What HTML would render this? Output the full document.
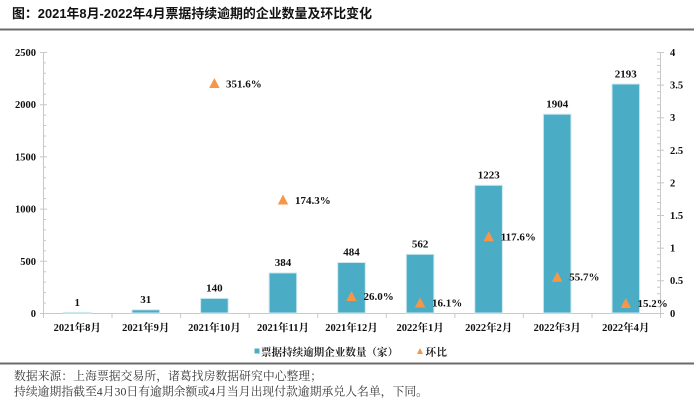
<!DOCTYPE html>
<html><head><meta charset="utf-8"><style>
html,body{margin:0;padding:0;background:#fff;}
svg{display:block;}
.t{font-family:"Liberation Sans","Noto Sans CJK SC",sans-serif;font-weight:bold;font-size:13px;fill:#111;}
.n{font-family:"Liberation Serif","Noto Serif CJK SC",serif;font-weight:bold;font-size:10.5px;fill:#111;}
.v{font-family:"Liberation Serif","Noto Serif CJK SC",serif;font-weight:bold;font-size:11px;fill:#111;}
.lg{font-family:"Liberation Serif","Noto Serif CJK SC",serif;font-weight:bold;font-size:10.5px;fill:#222;}
.f{font-family:"Liberation Serif","Noto Serif CJK SC",serif;font-size:11.8px;fill:#3a3a3a;}
</style></head><body>
<svg width="694" height="406" viewBox="0 0 694 406" xmlns="http://www.w3.org/2000/svg">
<rect width="694" height="406" fill="#fff"/>
<text class="t" x="12" y="18" textLength="360" lengthAdjust="spacingAndGlyphs">图：2021年8月-2022年4月票据持续逾期的企业数量及环比变化</text>
<rect x="0" y="28.5" width="694" height="2" fill="#6b6b6b"/>

<g stroke="#c8c8c8" stroke-width="1" fill="none">
<line x1="43.5" y1="52" x2="43.5" y2="313"/>
<line x1="660.5" y1="52" x2="660.5" y2="313"/>
<line x1="43" y1="313.5" x2="661" y2="313.5"/>
<path d="M40 52.5H47M40 104.7H47M40 156.9H47M40 209.1H47M40 261.3H47M40 313.5H47"/>
<path d="M43 62.9H46M43 73.3H46M43 83.8H46M43 94.2H46M43 115.1H46M43 125.5H46M43 136H46M43 146.4H46M43 167.3H46M43 177.7H46M43 188.2H46M43 198.6H46M43 219.5H46M43 229.9H46M43 240.4H46M43 250.8H46M43 271.7H46M43 282.1H46M43 292.6H46M43 303H46"/>
<path d="M657 52.5H664M657 85.1H664M657 117.7H664M657 150.3H664M657 182.9H664M657 215.5H664M657 248.1H664M657 280.7H664M657 313.5H664"/>
<path d="M657 59H660M657 65.5H660M657 72H660M657 78.6H660M657 91.6H660M657 98.1H660M657 104.7H660M657 111.2H660M657 124.2H660M657 130.7H660M657 137.3H660M657 143.8H660M657 156.8H660M657 163.3H660M657 169.9H660M657 176.4H660M657 189.4H660M657 195.9H660M657 202.5H660M657 209H660M657 222H660M657 228.5H660M657 235.1H660M657 241.6H660M657 254.6H660M657 261.1H660M657 267.7H660M657 274.2H660M657 287.2H660M657 293.7H660M657 300.3H660M657 306.8H660"/>
<path d="M43.5 313V318M112 313V318M180.6 313V318M249.2 313V318M317.7 313V318M386.3 313V318M454.9 313V318M523.4 313V318M592 313V318M660.5 313V318"/>
</g>

<g class="n" text-anchor="end">
<text x="36" y="56">2500</text>
<text x="36" y="108.2">2000</text>
<text x="36" y="160.4">1500</text>
<text x="36" y="212.6">1000</text>
<text x="36" y="264.8">500</text>
<text x="36" y="317">0</text>
</g>
<g class="n">
<text x="670" y="56">4</text>
<text x="670" y="88.6">3.5</text>
<text x="670" y="121.2">3</text>
<text x="670" y="153.8">2.5</text>
<text x="670" y="186.4">2</text>
<text x="670" y="219">1.5</text>
<text x="670" y="251.6">1</text>
<text x="670" y="284.2">0.5</text>
<text x="670" y="317">0</text>
</g>

<g fill="#4bacc6" stroke="#cfe9f1" stroke-width="1">
<rect x="63.4" y="312.4" width="27.6" height="0.8"/>
<rect x="132" y="309.8" width="27.6" height="3.2"/>
<rect x="200.6" y="298.4" width="27.6" height="14.6"/>
<rect x="269.1" y="272.9" width="27.6" height="40.1"/>
<rect x="337.7" y="262.5" width="27.6" height="50.5"/>
<rect x="406.3" y="254.3" width="27.6" height="58.7"/>
<rect x="474.8" y="185.3" width="27.6" height="127.7"/>
<rect x="543.4" y="114.2" width="27.6" height="198.8"/>
<rect x="612" y="84" width="27.6" height="229"/>
</g>

<g class="v" text-anchor="middle">
<text x="77.3" y="306">1</text>
<text x="145.8" y="303">31</text>
<text x="214.4" y="291.5">140</text>
<text x="283" y="266">384</text>
<text x="351.5" y="255.5">484</text>
<text x="420.1" y="247.5">562</text>
<text x="488.7" y="178.5">1223</text>
<text x="557.2" y="107.5">1904</text>
<text x="625.8" y="77.5">2193</text>
</g>

<g fill="#f79646">
<polygon points="214.4,78 219.6,88 209.2,88"/>
<polygon points="283,194.5 288.2,204.5 277.8,204.5"/>
<polygon points="351.5,291 356.7,301 346.3,301"/>
<polygon points="420.1,297.5 425.3,307.5 414.9,307.5"/>
<polygon points="488.7,231.3 493.9,241.3 483.5,241.3"/>
<polygon points="557.2,271.7 562.4,281.7 552,281.7"/>
<polygon points="625.8,298 631,308 620.6,308"/>
</g>
<g class="v">
<text x="226" y="87.5">351.6%</text>
<text x="295" y="204">174.3%</text>
<text x="363.5" y="300">26.0%</text>
<text x="432" y="306.5">16.1%</text>
<text x="500.7" y="240.3">117.6%</text>
<text x="569.2" y="280.7">55.7%</text>
<text x="637.5" y="307">15.2%</text>
</g>

<g class="n" text-anchor="middle">
<text x="77.3" y="331">2021年8月</text>
<text x="145.8" y="331">2021年9月</text>
<text x="214.4" y="331">2021年10月</text>
<text x="283" y="331">2021年11月</text>
<text x="351.5" y="331">2021年12月</text>
<text x="420.1" y="331">2022年1月</text>
<text x="488.7" y="331">2022年2月</text>
<text x="557.2" y="331">2022年3月</text>
<text x="625.8" y="331">2022年4月</text>
</g>

<rect x="254.5" y="348.5" width="5" height="5" fill="#4bacc6"/>
<text class="lg" x="261 271.55 282.1 292.65 303.2 313.75 324.3 334.85 345.4 355.95 366.5 377.05 387.6" y="355.5">票据持续逾期企业数量（家）</text>
<polygon points="420,348 423,354 417,354" fill="#f79646"/>
<text class="lg" x="425.5 436.5" y="355.5">环比</text>

<rect x="0" y="362.5" width="694" height="2" fill="#6b6b6b"/>
<text class="f" x="14 25.85 37.7 49.55 61.4 73.25 85.1 96.95 108.8 120.65 132.5 144.35 156.2 168.05 179.9 191.75 203.6 215.45 227.3 239.15 251 262.85 274.7 286.55 298.4 310.25" y="380">数据来源：上海票据交易所，诸葛找房数据研究中心整理；</text>
<text class="f" x="14" y="395.5" textLength="414" lengthAdjust="spacingAndGlyphs">持续逾期指截至4月30日有逾期余额或4月当月出现付款逾期承兑人名单，下同。</text>
</svg>
</body></html>
